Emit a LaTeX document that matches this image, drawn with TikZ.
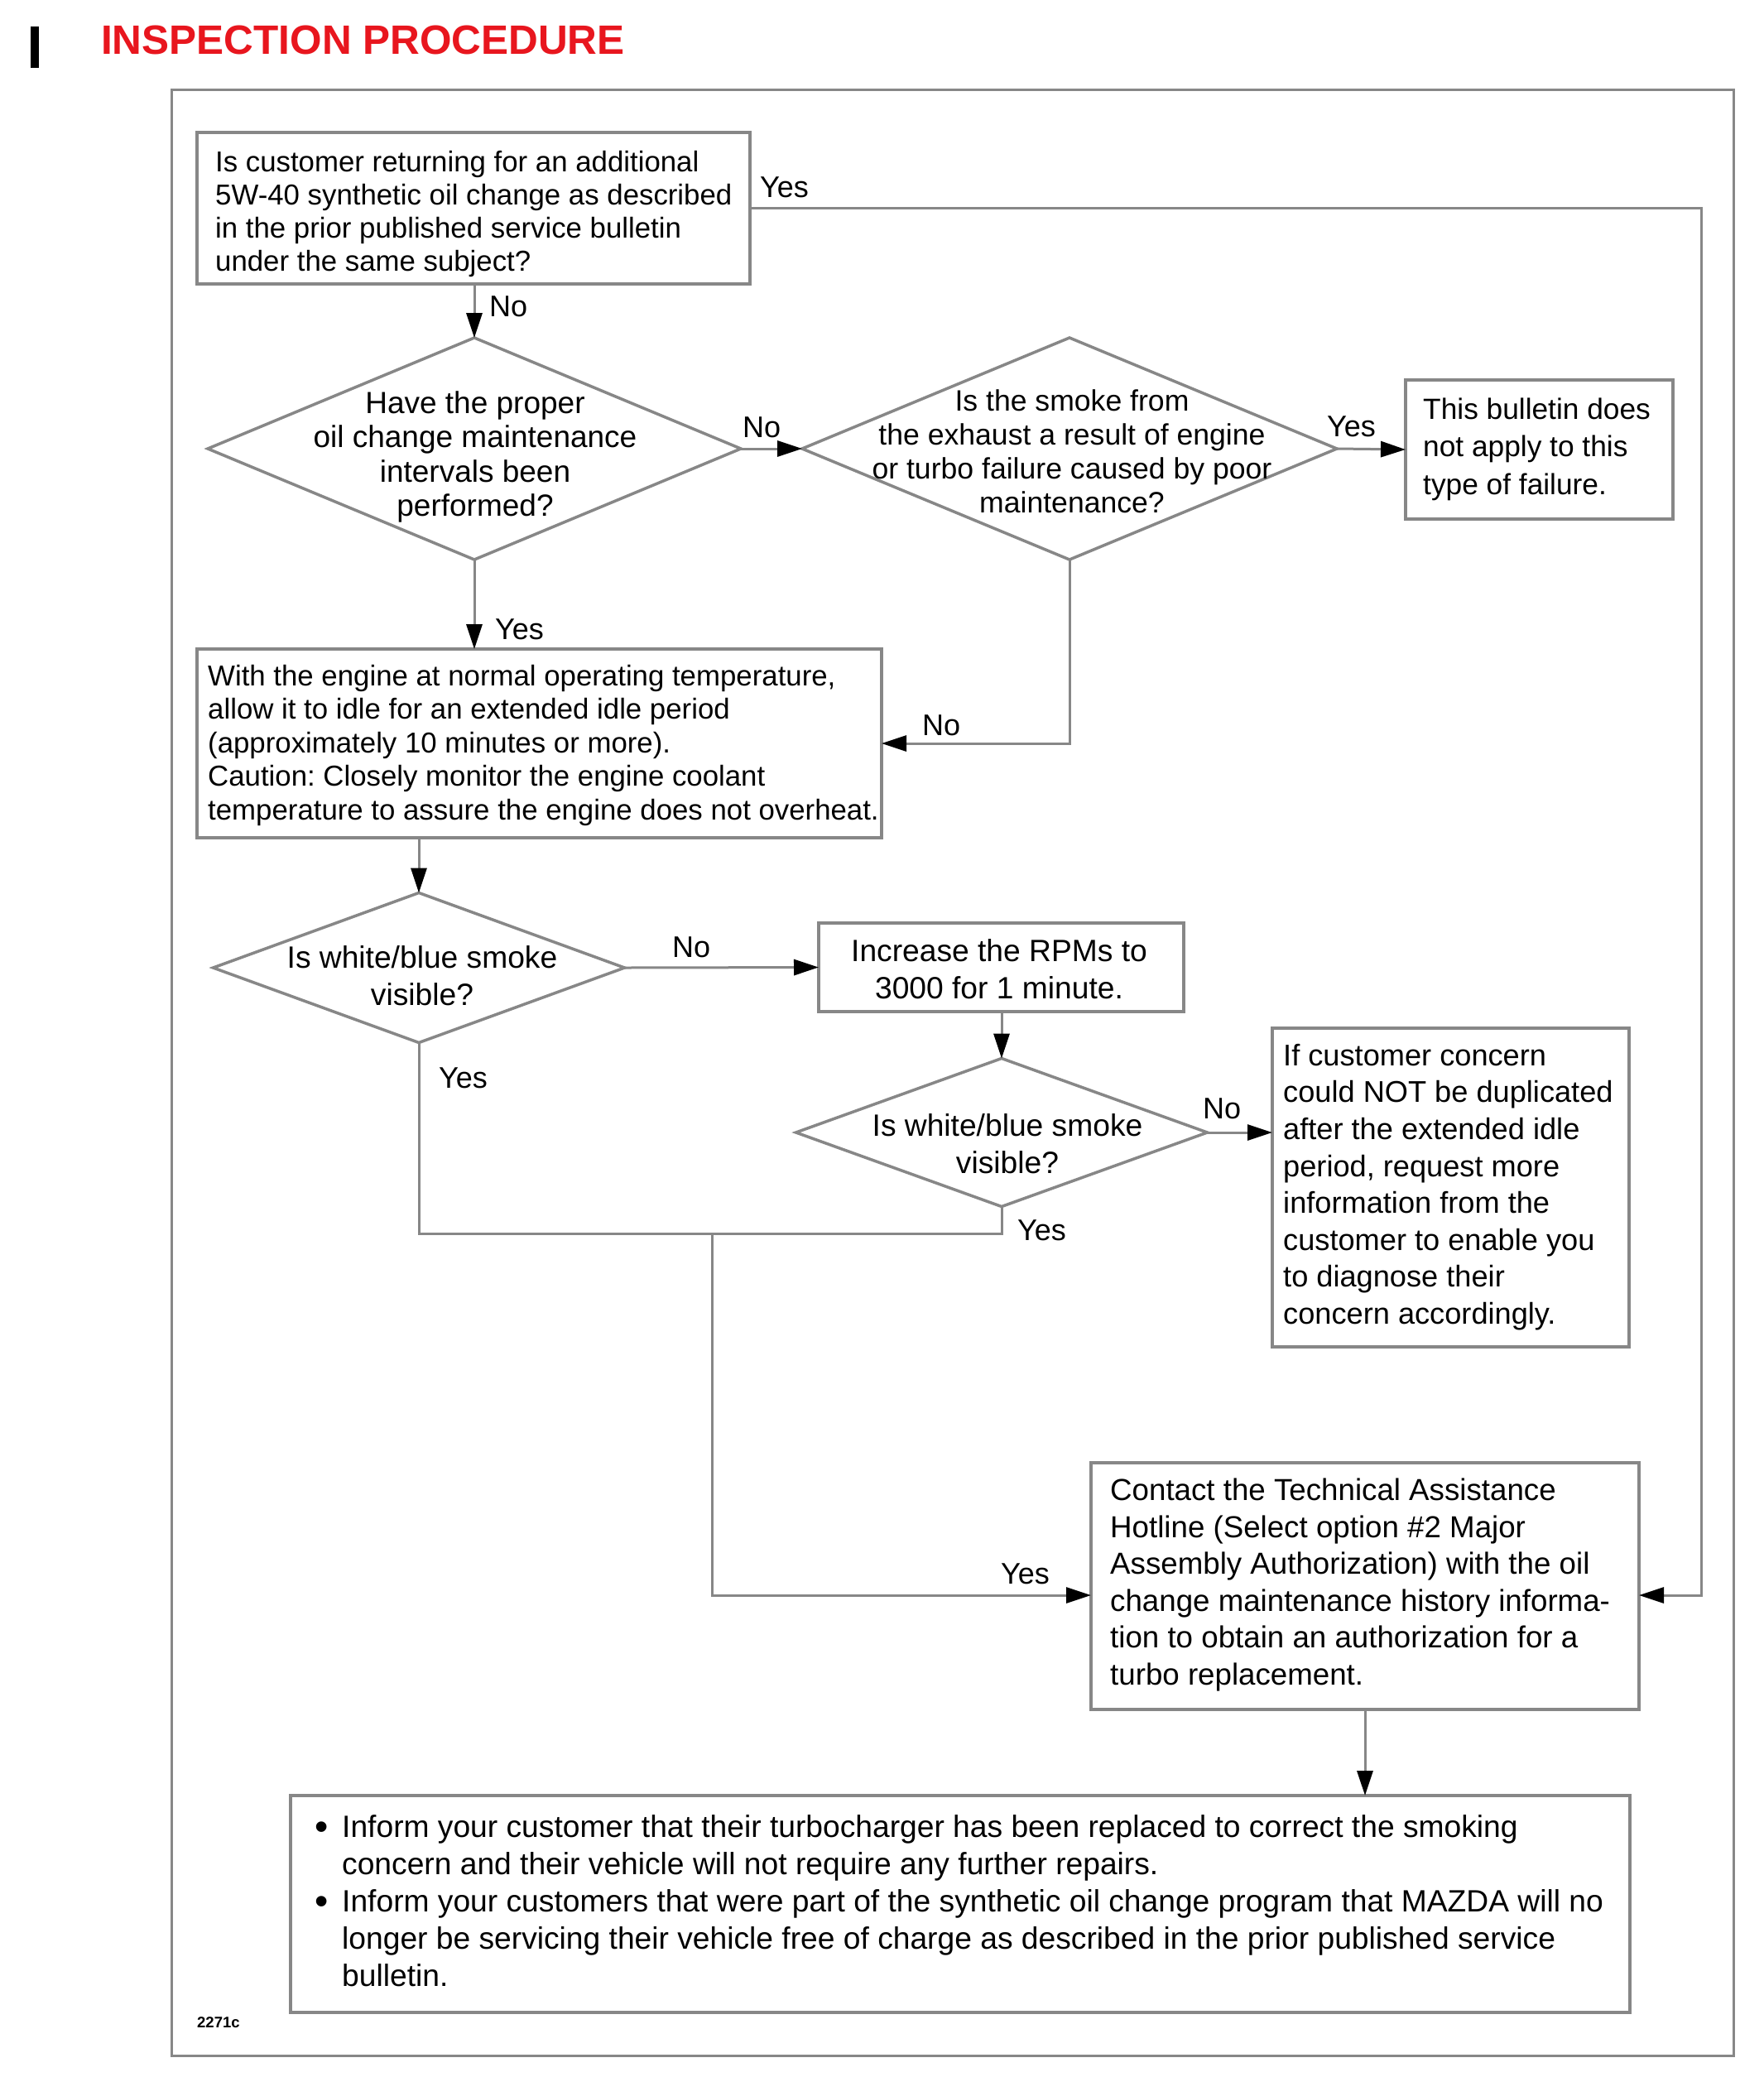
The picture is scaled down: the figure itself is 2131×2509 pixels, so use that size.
\documentclass[tikz,border=0pt]{standalone}
\usepackage{fontspec}
\setmainfont{Liberation Sans}
\usetikzlibrary{shapes.geometric,arrows.meta}
\definecolor{lc}{RGB}{135,135,135}
\definecolor{tred}{RGB}{232,22,30}
\frenchspacing
\newcommand{\bulletmark}{\makebox[33pt][l]{\raisebox{-3pt}{\scalebox{1.25}{•}}}}
\begin{document}
\begin{tikzpicture}[x=1pt,y=-1pt,
  cline/.style={draw=lc, line width=3pt},
  carrow/.style={cline, -{Triangle[length=30pt,width=19pt,color=black,fill=black]}},
  boxn/.style={draw=lc, line width=3.5pt, rectangle, inner sep=0pt, outer sep=0pt, anchor=north west},
  dian/.style={draw=lc, line width=3.5pt, diamond, inner sep=0pt, outer sep=0pt},
  txtn/.style={inner sep=0pt, align=left, anchor=north west},
  ctxt/.style={inner sep=0pt, align=center, anchor=north},
  lbln/.style={inner sep=0pt, anchor=base west, font=\fontsize{36}{43}\selectfont}]
\useasboundingbox (0,0) rectangle (2131,2509);
\fill[white] (0,0) rectangle (2131,2509);

% title
\fill[black] (37,32) rectangle (47,82);
\node[anchor=base west, inner sep=0pt, font=\fontsize{49.5}{55}\selectfont\bfseries, text=tred] (title) at (122,65) {INSPECTION PROCEDURE};

% outer frame
\draw[draw=lc, line width=3pt] (207,108) rectangle (2094,2483);

% boxes
\node[boxn, minimum width=668pt, minimum height=183pt] (box1) at (238,160) {};
\node[txtn, font=\fontsize{34.8}{40}\selectfont] (t1) at (260,182) {Is customer returning for an additional\\5W-40 synthetic oil change as described\\in the prior published service bulletin\\under the same subject?};

\node[boxn, minimum width=827pt, minimum height=228pt] (box2) at (238,784) {};
\node[txtn, font=\fontsize{34.8}{40.5}\selectfont] (t2) at (251,803) {With the engine at normal operating temperature,\\allow it to idle for an extended idle period\\(approximately 10 minutes or more).\\Caution: Closely monitor the engine coolant\\temperature to assure the engine does not overheat.};

\node[boxn, minimum width=323pt, minimum height=168pt] (box3) at (1698,459) {};
\node[txtn, font=\fontsize{35.3}{45.5}\selectfont] (t3) at (1719,480.6) {This bulletin does\\not apply to this\\type of failure.};

\node[boxn, minimum width=441pt, minimum height=107pt] (box4) at (989,1115) {};
\node[ctxt, font=\fontsize{37.2}{45}\selectfont] (t4) at (1207,1134.2) {Increase the RPMs to\\3000 for 1 minute.};

\node[boxn, minimum width=431pt, minimum height=385pt] (box5) at (1537,1242) {};
\node[txtn, font=\fontsize{36.2}{44.6}\selectfont] (t5) at (1550,1260.9) {If customer concern\\could NOT be duplicated\\after the extended idle\\period, request more\\information from the\\customer to enable you\\to diagnose their\\concern accordingly.};

\node[boxn, minimum width=662pt, minimum height=298pt] (box6) at (1318,1767) {};
\node[txtn, font=\fontsize{36.7}{44.6}\selectfont] (t6) at (1341,1785.6) {Contact the Technical Assistance\\Hotline (Select option \#2 Major\\Assembly Authorization) with the oil\\change maintenance history informa-\\tion to obtain an authorization for a\\turbo replacement.};

\node[boxn, minimum width=1618pt, minimum height=262pt] (box7) at (351,2169) {};
\node[txtn, font=\fontsize{37.2}{45}\selectfont] (t7) at (380,2192.2) {\bulletmark Inform your customer that their turbocharger has been replaced to correct the smoking\\\hspace*{33pt}concern and their vehicle will not require any further repairs.\\\bulletmark Inform your customers that were part of the synthetic oil change program that MAZDA will no\\\hspace*{33pt}longer be servicing their vehicle free of charge as described in the prior published service\\\hspace*{33pt}bulletin.};

% diamonds
\node[dian, minimum width=644pt, minimum height=268pt] (d1) at (573,542) {};
\node[ctxt, font=\fontsize{37}{41.3}\selectfont] (td1) at (574,472.4) {Have the proper\\oil change maintenance\\intervals been\\performed?};

\node[dian, minimum width=646pt, minimum height=268pt] (d2) at (1292,542) {};
\node[ctxt, font=\fontsize{35.6}{41}\selectfont] (td2) at (1295,470.4) {Is the smoke from\\the exhaust a result of engine\\or turbo failure caused by poor\\maintenance?};

\node[dian, minimum width=497pt, minimum height=181pt] (d3) at (506,1169) {};
\node[ctxt, font=\fontsize{37.2}{45}\selectfont] (td3) at (510,1142.2) {Is white/blue smoke\\visible?};

\node[dian, minimum width=497pt, minimum height=179pt] (d4) at (1210,1368) {};
\node[ctxt, font=\fontsize{37.2}{45}\selectfont] (td4) at (1217,1345.2) {Is white/blue smoke\\visible?};

% helper coordinates
\coordinate (yesR) at (2055,250);
\coordinate (jn) at (860,1490);

% connectors
\draw[carrow] (d1.north |- box1.south) -- (d1.north);
\draw[carrow] (box1.east) -- (box1.east -| yesR) |- ([yshift=-11pt]box6.east);
\draw[carrow] (d1.east) -- (d2.west);
\draw[carrow] (d2.east) -- (box3.west);
\draw[carrow] (d1.south) -- (d1.south |- box2.north);
\draw[carrow] (d2.south) |- (box2.east);
\draw[carrow] (d3.north |- box2.south) -- (d3.north);
\draw[carrow] (d3.east) -- (box4.west);
\draw[carrow] (d4.north |- box4.south) -- (d4.north);
\draw[carrow] (d4.east) -- (d4.east -| box5.west);
\draw[cline] (d3.south) |- (jn) -| (d4.south);
\draw[carrow] (jn) |- ([yshift=-11pt]box6.west);
\draw[carrow] (box6.south) -- (box6.south |- box7.north);

% labels
\node[lbln] (l1) at (918,238) {Yes};
\node[lbln] (l2) at (591,382) {No};
\node[lbln] (l3) at (897,528) {No};
\node[lbln] (l4) at (598,772) {Yes};
\node[lbln] (l5) at (1603,527) {Yes};
\node[lbln] (l6) at (1114,888) {No};
\node[lbln] (l7) at (812,1156) {No};
\node[lbln] (l8) at (530,1314) {Yes};
\node[lbln] (l9) at (1453,1351) {No};
\node[lbln] (l10) at (1229,1498) {Yes};
\node[lbln] (l11) at (1209,1913) {Yes};
\node[anchor=base west, inner sep=0pt, font=\fontsize{18.5}{20}\selectfont\bfseries] (code) at (238,2449) {2271c};
\end{tikzpicture}
\end{document}
